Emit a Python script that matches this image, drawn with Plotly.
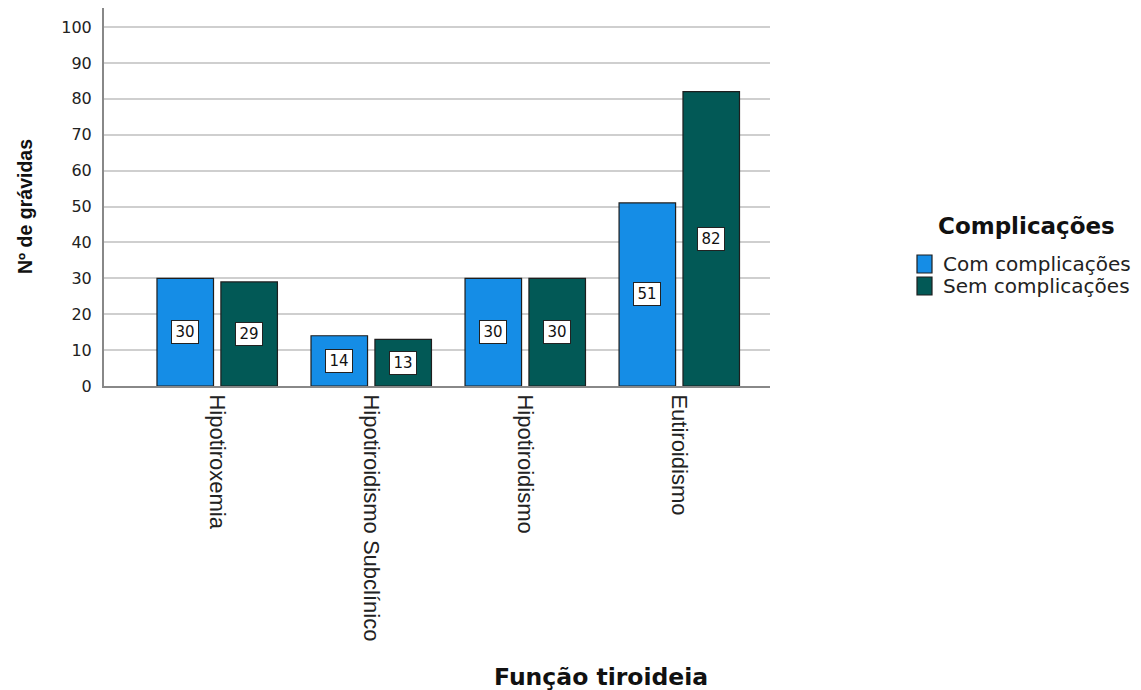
import plotly.graph_objects as go

# Data
categorias = ["Hipotiroxemia", "Hipotiroidismo Subclínico", "Hipotiroidismo", "Eutiroidismo"]
com_complicacoes = [30, 14, 30, 51]
sem_complicacoes = [29, 13, 30, 82]
series_nomes = ["Com complicações", "Sem complicações"]
y_ticks = list(range(0, 101, 10))

cores = ["#158de6", "#025956"]

# Canvas and plot-area geometry (pixels)
W, H = 1141, 690
L, R, T, B = 104, 770, 8, 386


def px(x):
    return (x - L) / (R - L)


def py(y):
    return (B - y) / (B - T)


pos = list(range(len(categorias)))
bar_w = 0.367
offsets = [-0.39, 0.025]

fig = go.Figure()
for nome, vals, cor, off in zip(series_nomes, [com_complicacoes, sem_complicacoes], cores, offsets):
    fig.add_trace(go.Bar(
        x=pos, y=vals, name=nome, width=bar_w, offset=off,
        marker=dict(color=cor, line=dict(color="#1e1e1e", width=1.2)),
        showlegend=False, hoverinfo="y",
    ))

annotations = []
# value boxes in the middle of each bar
for vals, off in zip([com_complicacoes, sem_complicacoes], offsets):
    for p, v in zip(pos, vals):
        annotations.append(dict(
            x=p + off + bar_w / 2, y=v / 2, xref="x", yref="y",
            text=str(v), showarrow=False, width=22,
            font=dict(family="DejaVu Sans", size=15, color="#111"),
            bgcolor="white", bordercolor="#222", borderwidth=1, borderpad=2,
        ))

# axis titles
annotations.append(dict(
    x=px(601), y=py(677), xref="paper", yref="paper", text="<b>Função tiroideia</b>",
    showarrow=False, font=dict(family="DejaVu Sans", size=23.5, color="#111"),
    xanchor="center", yanchor="middle",
))
annotations.append(dict(
    x=px(25), y=py(207), xref="paper", yref="paper", text="<b>Nº de grávidas</b>",
    showarrow=False, textangle=-90, font=dict(family="Liberation Sans", size=19.5, color="#111"),
    xanchor="center", yanchor="middle",
))

# legend
annotations.append(dict(
    x=px(1026), y=py(226), xref="paper", yref="paper", text="<b>Complicações</b>",
    showarrow=False, font=dict(family="DejaVu Sans", size=23, color="#111"),
    xanchor="center", yanchor="middle",
))
shapes = []
for i, (nome, cor) in enumerate(zip(series_nomes, cores)):
    yc = 264 + 22 * i
    shapes.append(dict(
        type="rect", xref="paper", yref="paper",
        x0=px(917), x1=px(932), y0=py(yc - 9), y1=py(yc + 9),
        fillcolor=cor, line=dict(color="#1e1e1e", width=1.2),
    ))
    annotations.append(dict(
        x=px(941), y=py(yc), xref="paper", yref="paper", text=nome,
        showarrow=False, font=dict(family="DejaVu Sans", size=20, color="#222"),
        xanchor="left", yanchor="middle",
    ))

fig.update_layout(
    width=W, height=H,
    margin=dict(l=L, r=W - R, t=T, b=H - B, pad=0),
    paper_bgcolor="white", plot_bgcolor="white",
    barmode="overlay",
    annotations=annotations, shapes=shapes,
    showlegend=False,
)
fig.update_xaxes(
    range=[-0.734, 3.59], tickvals=pos, ticktext=categorias, tickangle=90,
    tickfont=dict(family="Liberation Sans", size=22, color="#222"),
    showgrid=False, zeroline=False, showline=True, linecolor="#888", linewidth=2,
    ticks="", ticklen=0, ticklabelstandoff=2,
)
fig.update_yaxes(
    range=[0, (B - T) / 3.59], tickvals=y_ticks,
    tickfont=dict(family="DejaVu Sans", size=16, color="#222"),
    showgrid=True, gridcolor="#cfcfcf", gridwidth=1.5, zeroline=False,
    showline=True, linecolor="#888", linewidth=2, ticks="", ticklen=0,
    ticklabelstandoff=7,
)

fig.write_html("out.html")
